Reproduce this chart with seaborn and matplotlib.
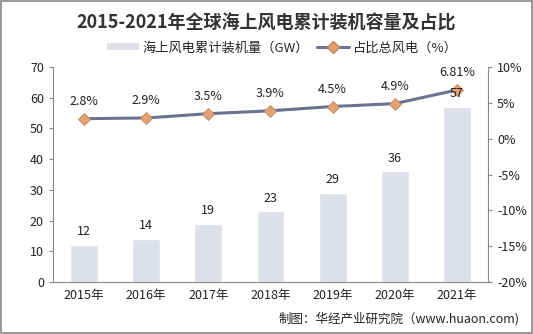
import matplotlib
matplotlib.use("Agg")
import matplotlib.pyplot as plt
import seaborn as sns
import pandas as pd
import numpy as np
from matplotlib.patches import Rectangle
from matplotlib.lines import Line2D
from matplotlib.patches import Patch

years = ["2015年", "2016年", "2017年", "2018年", "2019年", "2020年", "2021年"]
capacity = [12, 14, 19, 23, 29, 36, 57]
share = [2.8, 2.9, 3.5, 3.9, 4.5, 4.9, 6.81]
share_labels = ["2.8%", "2.9%", "3.5%", "3.9%", "4.5%", "4.9%", "6.81%"]
left_ticks = [0, 10, 20, 30, 40, 50, 60, 70]
right_ticks = [-20, -15, -10, -5, 0, 5, 10]

sns.set_style("white")
plt.rcParams['font.family'] = ['Noto Sans CJK SC', 'DejaVu Sans']

bar_color = "#dde0e9"
line_color = "#6b7391"
marker_color = "#e3a273"
axis_color = "#888888"

df = pd.DataFrame({"year": years, "capacity": capacity, "share": share})

fig = plt.figure(figsize=(5.33, 3.34), dpi=100)
ax = fig.add_axes([0.0994, 0.156, 0.8162, 0.643])
sns.barplot(data=df, x="year", y="capacity", color=bar_color, width=0.45,
            saturation=1, ax=ax)
ax.set_ylim(0, 70)
ax.set_xlim(-0.5, len(years) - 0.5)
ax.set_yticks(left_ticks)
ax.set_xlabel("")
ax.set_ylabel("")

ax2 = ax.twinx()
sns.lineplot(x=np.arange(len(years)), y=share, ax=ax2, color=line_color, lw=2.2,
             marker="D", markersize=6, markerfacecolor=marker_color,
             markeredgecolor="#c0865a", markeredgewidth=0.6, zorder=4)
ax2.set_ylim(-20, 10)
ax2.set_yticks(right_ticks)
ax2.set_yticklabels([f"{t}%" for t in right_ticks])
for i, (v, lab) in enumerate(zip(share, share_labels)):
    ax2.text(i, v + 1.5, lab, ha="center", va="bottom", fontsize=9, color="#222222")
for i, v in enumerate(capacity):
    ax2.text(i, v + 2.2, str(v), ha="center", va="bottom", fontsize=9, color="#222222",
             transform=ax.transData, zorder=6)

for a in (ax, ax2):
    for s in a.spines.values():
        s.set_visible(False)
    a.tick_params(axis="y", labelsize=9, colors="#222222", length=3, width=0.8,
                  color=axis_color, direction="out")
ax.spines["left"].set_visible(True)
ax.spines["left"].set_color(axis_color)
ax.spines["bottom"].set_visible(True)
ax.spines["bottom"].set_color(axis_color)
ax2.spines["right"].set_visible(True)
ax2.spines["right"].set_color(axis_color)
ax.set_xticks(np.arange(len(years)))
ax.set_xticklabels(years)
ax.tick_params(axis="x", which="major", length=0, labelsize=9, colors="#222222", pad=5)
ax.set_xticks(np.arange(len(years) + 1) - 0.5, minor=True)
ax.tick_params(axis="x", which="minor", length=3, color=axis_color, direction="out")
ax.grid(False)
ax2.grid(False)

fig.text(0.5, 0.932, "2015-2021年全球海上风电累计装机容量及占比", ha="center", va="center",
         fontsize=13, fontweight="bold", color="#333333")

handles = [Patch(facecolor=bar_color, edgecolor="none"),
           Line2D([0], [0], color=line_color, lw=2.2, marker="D", markersize=6,
                  markerfacecolor=marker_color, markeredgecolor="#c0865a")]
fig.legend(handles, ["海上风电累计装机量（GW）", "占比总风电（%）"], loc="center",
           bbox_to_anchor=(0.53, 0.857), ncol=2, frameon=False, fontsize=9.5,
           handlelength=2.4, handleheight=0.5, handletextpad=0.3, columnspacing=0.6)

fig.text(0.975, 0.045, "制图：华经产业研究院（www.huaon.com)", ha="right", va="center",
         fontsize=9, color="#222222")

fig.patches.append(Rectangle((0.002, 0.003), 0.996, 0.994, transform=fig.transFigure,
                             fill=False, edgecolor="#888888", lw=1.2))

fig.savefig("out.png", dpi=100)
